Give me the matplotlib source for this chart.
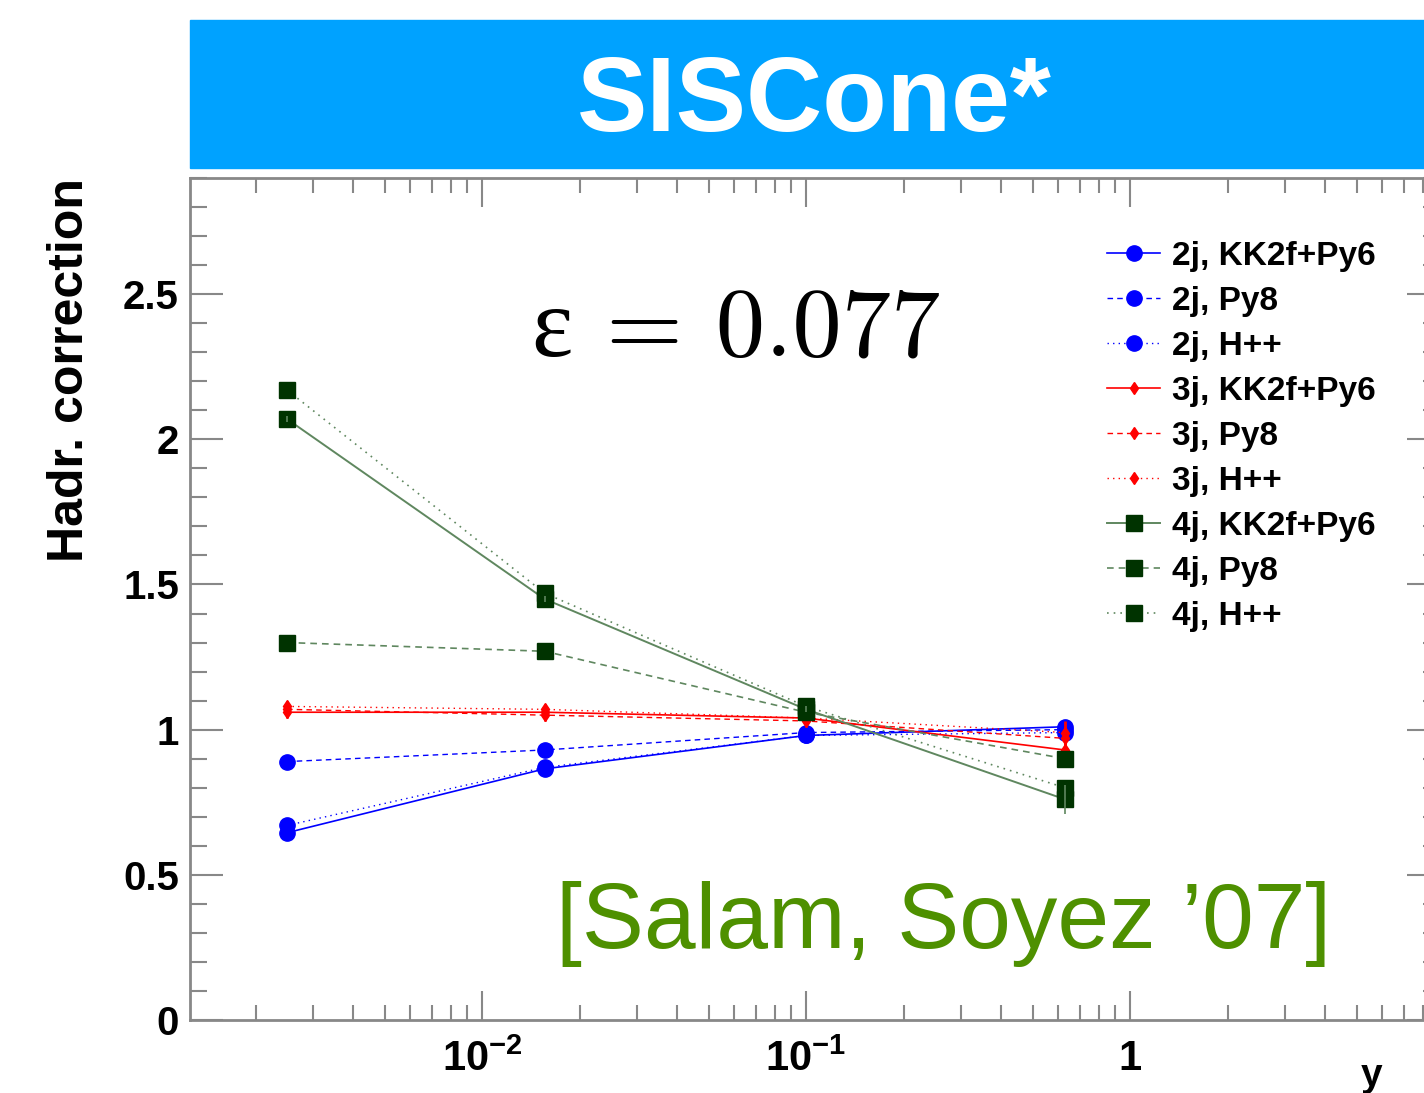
import matplotlib
matplotlib.use("Agg")
import matplotlib.pyplot as plt
from matplotlib.patches import Rectangle
from matplotlib.ticker import LogLocator, MultipleLocator, FixedLocator, FixedFormatter, NullFormatter

# ---- data ----
ycut = [0.0025, 0.0156, 0.1, 0.63]

j2_kk = [0.645, 0.865, 0.98, 1.01]
j2_py8 = [0.89, 0.93, 0.99, 1.00]
j2_hpp = [0.67, 0.87, 0.98, 0.99]

j3_kk = [1.06, 1.06, 1.04, 0.93]
j3_py8 = [1.07, 1.05, 1.03, 0.97]
j3_hpp = [1.08, 1.07, 1.04, 0.99]

j4_kk = [2.07, 1.45, 1.07, 0.76]
j4_py8 = [1.30, 1.27, 1.06, 0.90]
j4_hpp = [2.17, 1.47, 1.08, 0.80]

err_3j = [0.02, 0.02, 0.02, 0.04]
err_4j = [0.01, 0.01, 0.01, 0.05]

labels = ["2j, KK2f+Py6", "2j, Py8", "2j, H++",
          "3j, KK2f+Py6", "3j, Py8", "3j, H++",
          "4j, KK2f+Py6", "4j, Py8", "4j, H++"]

W, H = 1424, 1093
plt.rcParams["font.family"] = ["Liberation Sans", "DejaVu Sans"]
plt.rcParams["mathtext.fontset"] = "custom"
plt.rcParams["mathtext.rm"] = "Liberation Sans:bold"
plt.rcParams["mathtext.it"] = "Liberation Sans:bold"
plt.rcParams["mathtext.bf"] = "Liberation Sans:bold"

fig = plt.figure(figsize=(W / 100, H / 100), dpi=100)

# banner
fig.add_artist(Rectangle((190 / W, 1 - 168 / H), (W - 190) / W, 148 / H,
                         transform=fig.transFigure, color="#00a2ff", zorder=0))
fig.text(814 / W, 1 - 104 / H, "SISCone*", color="white", fontsize=76,
         fontweight="bold", ha="center", va="center")

ax = fig.add_axes([190 / W, 73 / H, (1440 - 190) / W, (1020 - 178) / H])
ax.set_xscale("log")
ax.set_xlim(1.255e-3, 9.05)
ax.set_ylim(0, 2.9)

blue, red, green_m, green_l = "#0000ff", "#ff0000", "#003300", "#5f875f"
dash = (0, (4, 3))
dot = (0, (1, 3))

ax.plot(ycut, j2_kk, color=blue, lw=1.2, marker="o", ms=11, label=labels[0])
ax.plot(ycut, j2_py8, color=blue, lw=1.0, ls=dash, marker="o", ms=11, label=labels[1])
ax.plot(ycut, j2_hpp, color=blue, lw=1.0, ls=dot, marker="o", ms=11, label=labels[2])

ax.plot(ycut, j3_kk, color=red, lw=1.2, marker="d", ms=6, label=labels[3])
ax.plot(ycut, j3_py8, color=red, lw=1.0, ls=dash, marker="d", ms=6, label=labels[4])
ax.plot(ycut, j3_hpp, color=red, lw=1.0, ls=dot, marker="d", ms=6, label=labels[5])
for vals in (j3_kk, j3_py8, j3_hpp):
    ax.errorbar(ycut, vals, yerr=err_3j, fmt="none", ecolor=red, elinewidth=2)

ax.plot(ycut, j4_kk, color=green_l, lw=1.4, marker="s", ms=11, mfc=green_m, mec=green_m, label=labels[6])
ax.plot(ycut, j4_py8, color=green_l, lw=1.2, ls=dash, marker="s", ms=11, mfc=green_m, mec=green_m, label=labels[7])
ax.plot(ycut, j4_hpp, color=green_l, lw=1.2, ls=dot, marker="s", ms=11, mfc=green_m, mec=green_m, label=labels[8])
ax.errorbar(ycut, j4_kk, yerr=err_4j, fmt="none", ecolor=green_l, elinewidth=1.2)

# axes styling, ROOT-like
for s in ax.spines.values():
    s.set_color("#888888")
    s.set_linewidth(2)
ax.yaxis.set_minor_locator(MultipleLocator(0.1))
ax.set_yticks([0, 0.5, 1, 1.5, 2, 2.5])
ax.set_yticklabels(["0", "0.5", "1", "1.5", "2", "2.5"])
ax.xaxis.set_major_locator(FixedLocator([1e-2, 1e-1, 1]))
ax.xaxis.set_major_formatter(FixedFormatter([r"$10^{-2}$", r"$10^{-1}$", "1"]))
ax.xaxis.set_minor_locator(LogLocator(base=10, subs=range(2, 10), numticks=20))
ax.xaxis.set_minor_formatter(NullFormatter())
ax.tick_params(axis="both", which="both", direction="in", top=True, right=True,
               color="#888888", width=1.5)
ax.tick_params(axis="y", which="major", length=24, labelsize=29, pad=8)
ax.tick_params(axis="y", which="minor", length=12)
ax.tick_params(axis="x", which="major", length=21, labelsize=30, pad=14)
ax.tick_params(axis="x", which="minor", length=11)
for lab in ax.get_yticklabels() + ax.get_xticklabels():
    lab.set_fontweight("bold")

fig.text(70 / W, 1 - 370 / H, "Hadr. correction", rotation=90, fontsize=36,
         fontweight="bold", ha="center", va="center")
fig.text(1372 / W, 1 - 1086 / H, "y", fontsize=28, fontweight="bold",
         ha="center", va="baseline")

fig.text(736 / W, 1 - 355 / H, "\u03b5 = 0.077", family=["cmr10", "Liberation Serif"],
         fontsize=71, ha="center", va="baseline")
fig.text(944 / W, 1 - 948 / H, "[Salam, Soyez \u201907]", color="#4e9000",
         fontsize=67, ha="center", va="baseline")

ax.legend(loc="upper left", bbox_to_anchor=(1107 / W, 1 - 241 / H),
          bbox_transform=fig.transFigure, frameon=False,
          prop={"weight": "bold", "size": 24}, numpoints=1, handlelength=1.6,
          handletextpad=0.36, labelspacing=0.42, borderpad=0, borderaxespad=0)

fig.savefig("out.png", dpi=100)
